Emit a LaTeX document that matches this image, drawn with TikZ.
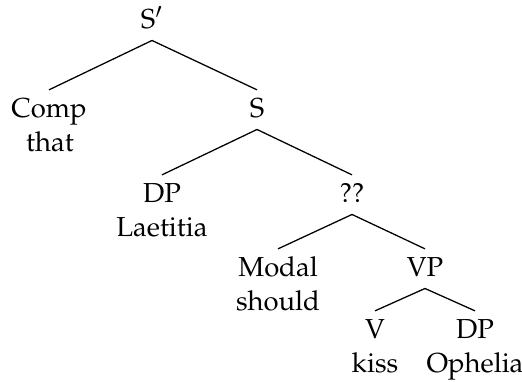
\documentclass[tikz,border=0pt]{standalone}
\usepackage[T1]{fontenc}
\usepackage{mathpazo}
\begin{document}
\begin{tikzpicture}[x=0.3533pt,y=-0.3533pt,
  cat/.style={anchor=base,inner sep=2.2pt,text height=7.2pt,text depth=2pt,font=\fontsize{9.7}{12}\selectfont},
  word/.style={anchor=base,inner sep=0pt,font=\fontsize{9.7}{12}\selectfont},
  branch/.style={line width=0.45pt}]
\useasboundingbox (0,0) rectangle (522,381);
% categories
\node[cat] (sbar)  at (152,28)  {S$'$};
\node[cat] (comp)  at (49,117)  {Comp};
\node[cat] (s)     at (257,117) {S};
\node[cat] (dp1)   at (162,202) {DP};
\node[cat] (qq)    at (352,202) {??};
\node[cat] (modal) at (278,276) {Modal};
\node[cat] (vp)    at (425,276) {VP};
\node[cat] (v)     at (375,338) {V};
\node[cat] (dp2)   at (475,338) {DP};
% words
\node[word] (that)     at (50,151)  {that};
\node[word] (laetitia) at (162,236) {Laetitia};
\node[word] (should)   at (278,310) {should};
\node[word] (kiss)     at (375,372) {kiss};
\node[word] (ophelia)  at (475,372) {Ophelia};
% branches
\draw[branch] (sbar.south) -- (comp.north);
\draw[branch] (sbar.south) -- (s.north);
\draw[branch] (s.south) -- (dp1.north);
\draw[branch] (s.south) -- (qq.north);
\draw[branch] (qq.south) -- (modal.north);
\draw[branch] (qq.south) -- (vp.north);
\draw[branch] (vp.south) -- (v.north);
\draw[branch] (vp.south) -- (dp2.north);
\end{tikzpicture}
\end{document}
